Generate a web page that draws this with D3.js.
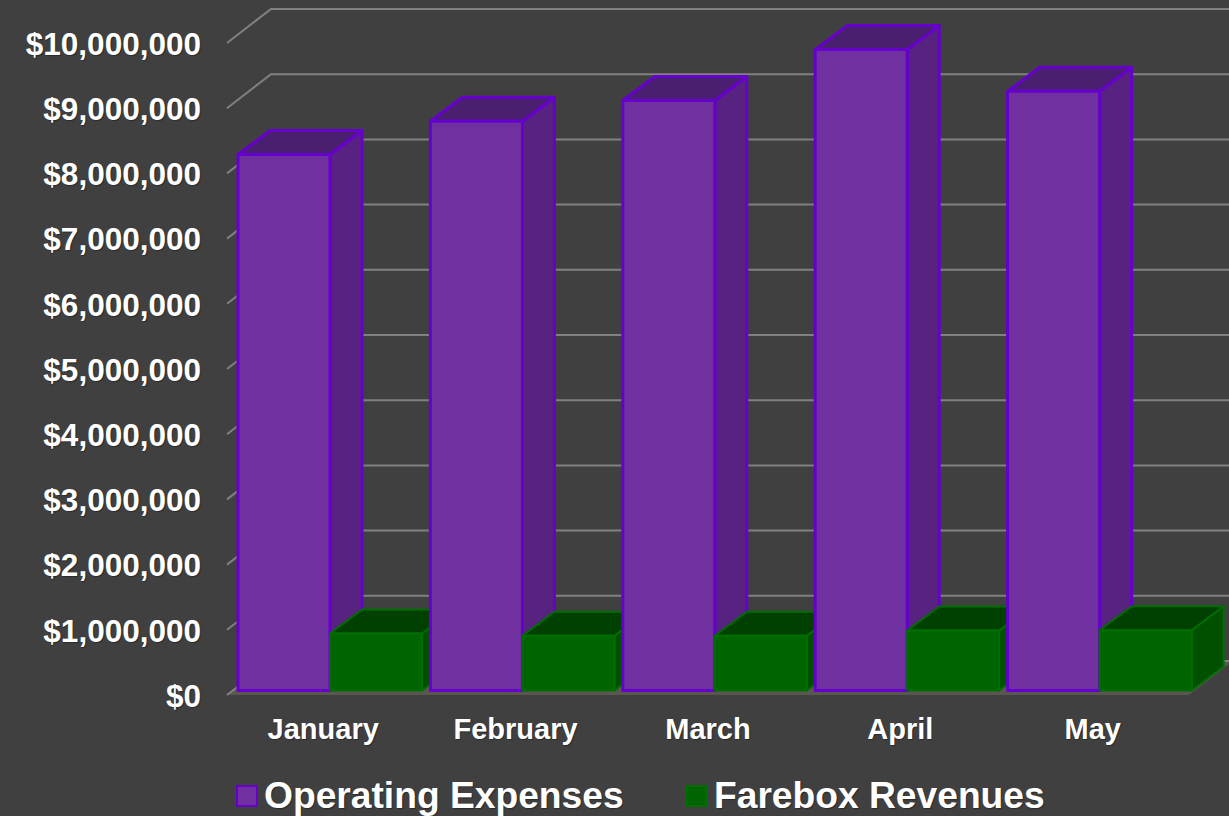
<!DOCTYPE html>
<html><head><meta charset="utf-8">
<script src="https://cdn.jsdelivr.net/npm/d3@7/dist/d3.min.js"></script>
<style>html,body{margin:0;padding:0;background:#404040;overflow:hidden}
svg{display:block}
text{font-family:"Liberation Sans",Arial,sans-serif;font-weight:bold;fill:#fff;text-shadow:1px 1px 1px rgba(0,0,0,.35)}
</style></head><body><svg id="c" width="1229" height="816"></svg>
<script>
const categories=["January","February","March","April","May"];
const operatingExpenses=[8220000,8730000,9050000,9830000,9190000];
const fareboxRevenues=[874000,840000,840000,920000,925000];
const tickValues=[0,1000000,2000000,3000000,4000000,5000000,6000000,7000000,8000000,9000000,10000000];
const seriesNames=["Operating Expenses","Farebox Revenues"];
const colors=[
 {front:"#7030a0",top:"#4b1f6f",side:"#582380",stroke:"#6600cc"},
 {front:"#006400",top:"#004000",side:"#005000",stroke:"#006e00"}];

const W=1229,H=816;
const svg=d3.select("#c");
svg.append("rect").attr("width",W).attr("height",H).attr("fill","#404040");
const dx=44,dy=-34;             // wall depth
const bx=32,by=-24;             // bar depth
const inset={x:11,y:-4.5};      // bar offset on the floor
const y=d3.scaleLinear().domain([0,10000000]).range([695,43]);
const x=d3.scaleBand().domain(categories).range([227,1189]);

// floor
const y0=y(0),xl=x.range()[0],xr=x.range()[1];
svg.append("path").attr("fill","#5a5750")
 .attr("d",`M${xl},${y0}L${xr},${y0}L${xr+dx},${y0+dy}L${xl+dx},${y0+dy}Z`);
// gridlines
const grid=svg.append("g").attr("fill","none").attr("stroke","#808080").attr("stroke-width",2);
tickValues.forEach(t=>{
 grid.append("path").attr("d",`M${xl},${y(t)}L${xl+dx},${y(t)+dy}L${W},${y(t)+dy}`);
});
// y axis
const axis=svg.append("g").attr("transform",`translate(${xl-26},0)`)
 .call(d3.axisLeft(y).tickValues(tickValues).tickSize(0).tickPadding(0)
   .tickFormat(d=>"$"+d3.format(",")(d)));
axis.select(".domain").remove();
axis.selectAll("text").attr("font-size",31.5).attr("dy","0.36em").style("font-size","31.5px").style("font-family",null);
// bars
const barW=92;
function bar(g,x0,v,c){
 const x1=x0+barW,yb=y0+inset.y,yt=yb-(y0-y(v));
 const s={stroke:c.stroke,"stroke-width":c===colors[0]?3:2,"stroke-linejoin":"round"};
 const p=(d,f)=>{const e=g.append("path").attr("d",d).attr("fill",f);
   Object.entries(s).forEach(([k,val])=>e.attr(k,val));};
 p(`M${x1},${yb}L${x1+bx},${yb+by}L${x1+bx},${yt+by}L${x1},${yt}Z`,c.side);
 p(`M${x0},${yt}L${x0+bx},${yt+by}L${x1+bx},${yt+by}L${x1},${yt}Z`,c.top);
 p(`M${x0},${yb}L${x0},${yt}L${x1},${yt}L${x1},${yb}Z`,c.front);
}
const bars=svg.append("g");
categories.forEach((cat,i)=>{
 const x0=x(cat)+inset.x;
 bar(bars,x0,operatingExpenses[i],colors[0]);
 bar(bars,x0+barW,fareboxRevenues[i],colors[1]);
});
// x labels
const xAxis=svg.append("g").attr("transform",`translate(0,729)`);
xAxis.selectAll("text").data(categories).join("text")
 .attr("x",d=>x(d)+x.bandwidth()/2).attr("y",0).attr("dy","0.36em")
 .attr("text-anchor","middle").style("font-size","29px").text(d=>d);
// legend
const legX=[237,686],legT=[264,714];
seriesNames.forEach((n,i)=>{
 svg.append("rect").attr("x",legX[i]).attr("y",786).attr("width",20).attr("height",20)
  .attr("fill",colors[i].front).attr("stroke",colors[i].stroke).attr("stroke-width",2);
 svg.append("text").attr("x",legT[i]).attr("y",795).attr("dy","0.36em").style("font-size","37.2px").text(n);
});
</script></body></html>
